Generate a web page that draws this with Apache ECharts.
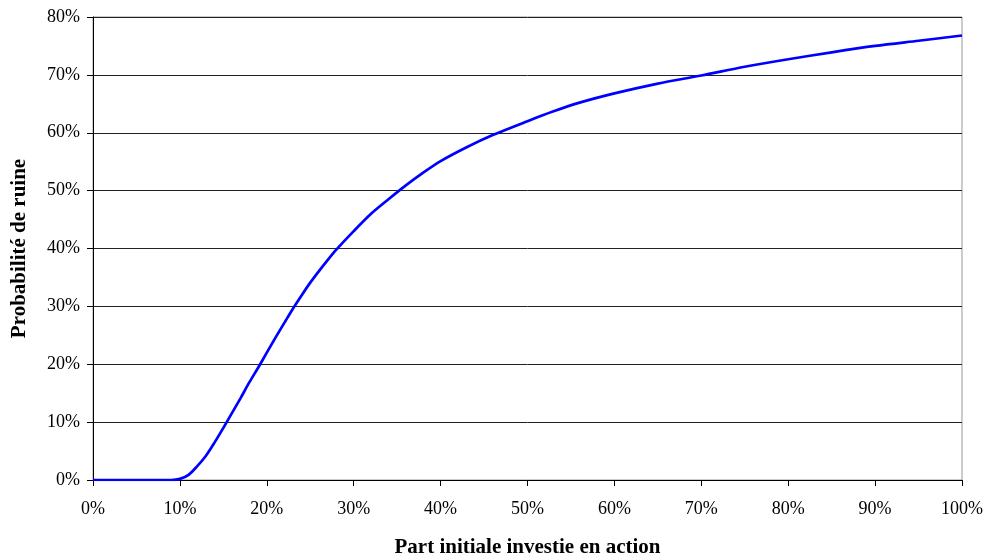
<!DOCTYPE html>
<html>
<head>
<meta charset="utf-8">
<script src="https://cdn.jsdelivr.net/npm/echarts@6/dist/echarts.min.js"></script>
<style>html,body{margin:0;padding:0;background:#fff}#c{width:989px;height:557px}</style>
</head>
<body>
<div id="c"></div>
<script>
const shareInvested = [0,5,9,10,11,12,13,14,15,16,17,18,19,20,21,22,23,24,25,26,27,28,30,32,34,36,38,40,43,46,50,53,56,60,65,70,75,80,85,90,95,100];
const ruinProbability = [0,0,0,0.2,0.9,2.4,4.2,6.5,9.0,11.6,14.2,16.9,19.4,22.0,24.6,27.1,29.6,31.9,34.1,36.1,38.0,39.8,43.0,46.0,48.5,50.9,53.1,55.1,57.5,59.6,62.0,63.7,65.2,66.8,68.5,69.9,71.4,72.7,73.9,75.0,75.9,76.8];
const xTitle = 'Part initiale investie en action';
const yTitle = 'Probabilité de ruine';

const chart = echarts.init(document.getElementById('c'), null, {renderer: 'canvas'});
const font = '"Liberation Serif", "Times New Roman", serif';
chart.setOption({
  animation: false,
  backgroundColor: '#fff',
  grid: {left: 93, right: 27, top: 17, bottom: 77, show: true, borderColor: '#999', borderWidth: 1, containLabel: false, outerBoundsMode: 'none'},
  xAxis: {
    type: 'value', min: 0, max: 100, interval: 10,
    name: xTitle, nameLocation: 'middle', nameGap: 57,
    nameTextStyle: {fontFamily: font, fontSize: 21, fontWeight: 'bold', color: '#000'},
    axisLine: {show: true, lineStyle: {color: '#000', width: 1}},
    axisTick: {show: true, inside: false, length: 6, lineStyle: {color: '#000'}},
    axisLabel: {formatter: '{value}%', fontFamily: font, fontSize: 18, color: '#000', margin: 20},
    splitLine: {show: false}
  },
  yAxis: {
    type: 'value', min: 0, max: 80, interval: 10,
    name: yTitle, nameLocation: 'middle', nameGap: 63, nameRotate: 90,
    nameTextStyle: {fontFamily: font, fontSize: 21, fontWeight: 'bold', color: '#000'},
    axisLine: {show: true, lineStyle: {color: '#000', width: 1}},
    axisTick: {show: true, inside: false, length: 6, lineStyle: {color: '#000'}},
    axisLabel: {formatter: '{value}%', fontFamily: font, fontSize: 18, color: '#000', margin: 13},
    splitLine: {show: true, lineStyle: {color: '#222', width: 1}}
  },
  series: [{
    type: 'line',
    data: shareInvested.map((x, i) => [x, ruinProbability[i]]),
    smooth: 0.3,
    showSymbol: false,
    lineStyle: {color: '#0000ff', width: 2.7},
    itemStyle: {color: '#0000ff'}
  }]
});
</script>
</body>
</html>
